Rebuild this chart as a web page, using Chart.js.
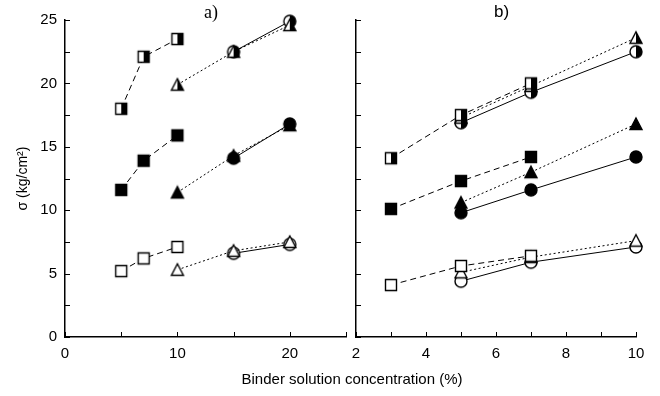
<!DOCTYPE html>
<html>
<head>
<meta charset="utf-8">
<script src="https://cdn.jsdelivr.net/npm/chart.js@4"></script>
<style>
  body { margin: 0; background: #fff; }
  #wrap { position: relative; width: 660px; height: 396px; font-family: "Liberation Sans", Arial, sans-serif; }
  canvas { position: absolute; top: 0; }
  .lab { position: absolute; color: #000; white-space: nowrap; }
</style>
</head>
<body>
<div id="wrap">
  <canvas id="chartA" width="354" height="396" style="left:0"></canvas>
  <canvas id="chartB" width="320" height="396" style="left:340px"></canvas>
  <div class="lab" style="left:204px;top:2px;font:18px 'Liberation Serif',serif">a)</div>
  <div class="lab" style="left:494px;top:2px;font:17px 'Liberation Sans',sans-serif">b)</div>
  <div class="lab" style="left:0;width:704px;text-align:center;top:370px;font-size:15px">Binder solution concentration (%)</div>
</div>
<script>
// panel a) x values
var aSqX = [5, 7, 10];
var aTriX = [10, 15, 20];
var aCirX = [15, 20];
// panel a) sigma values (kg/cm2)
var aSqHalf = [18.0, 22.1, 23.5];
var aTriHalf = [19.9, 22.5, 24.6];
var aCirHalf = [22.5, 24.9];
var aSqFull = [11.6, 13.9, 15.9];
var aTriFull = [11.4, 14.3, 16.7];
var aCirFull = [14.1, 16.8];
var aSqOpen = [5.2, 6.2, 7.1];
var aTriOpen = [5.3, 6.8, 7.5];
var aCirOpen = [6.6, 7.3];

// panel b) x values
var bSqX = [3, 5, 7];
var bTriX = [5, 7, 10];
var bCirX = [5, 7, 10];
// panel b) sigma values
var bSqHalf = [14.1, 17.5, 20.0];
var bTriHalf = [17.3, 19.8, 23.6];
var bCirHalf = [16.9, 19.3, 22.5];
var bSqFull = [10.1, 12.3, 14.2];
var bTriFull = [10.6, 13.0, 16.8];
var bCirFull = [9.8, 11.6, 14.2];
var bSqOpen = [4.1, 5.6, 6.4];
var bTriOpen = [5.1, 6.3, 7.6];
var bCirOpen = [4.4, 5.9, 7.1];

var yTicks = [0, 5, 10, 15, 20, 25];
var aXTicks = [0, 10, 20];
var bXTicks = [2, 4, 6, 8, 10];

// build marker images: shape = sq/tri/cir, fill = open/full/half
function marker(shape, fill) {
  var s = 16, c = document.createElement('canvas');
  c.width = s; c.height = s;
  var g = c.getContext('2d');
  function path() {
    g.beginPath();
    if (shape === 'sq') g.rect(2.5, 2.5, 11, 11);
    else if (shape === 'cir') g.arc(8, 8, 6, 0, Math.PI * 2);
    else { g.moveTo(8, 2); g.lineTo(14, 13.5); g.lineTo(2, 13.5); g.closePath(); }
  }
  path();
  g.fillStyle = fill === 'full' ? '#000' : '#fff';
  g.fill();
  if (fill === 'half') {
    g.save();
    g.beginPath(); g.rect(8, 0, 8, 16); g.clip();
    path(); g.fillStyle = '#000'; g.fill();
    g.restore();
  }
  path();
  g.lineWidth = 1.4;
  g.strokeStyle = '#000';
  g.stroke();
  return c;
}

var dashFor = { sq: [6, 4], tri: [2, 2.5], cir: [] };

function ds(xs, ys, shape, fill) {
  return {
    data: xs.map(function (x, i) { return { x: x, y: ys[i] }; }),
    showLine: true,
    borderColor: '#000',
    borderWidth: 1,
    borderDash: dashFor[shape],
    pointStyle: marker(shape, fill),
    pointRadius: 7,
    clip: false
  };
}

var inTicks = {
  id: 'inTicks',
  beforeDatasetsDraw: function (chart) {
    var ctx = chart.ctx, a = chart.chartArea, xs = chart.scales.x, ys = chart.scales.y;
    ctx.save();
    ctx.strokeStyle = '#000';
    ctx.lineWidth = 1;
    ctx.beginPath();
    xs.ticks.forEach(function (t) {
      var px = Math.round(xs.getPixelForValue(t.value)) + 0.5;
      ctx.moveTo(px, a.bottom); ctx.lineTo(px, a.bottom - 5);
    });
    ys.ticks.forEach(function (t) {
      var py = Math.round(ys.getPixelForValue(t.value)) + 0.5;
      ctx.moveTo(a.left, py); ctx.lineTo(a.left + 5, py);
    });
    ctx.stroke();
    ctx.restore();
  }
};

function makeChart(id, datasets, xMin, xMax, xStep, xLabels, showY, pad) {
  return new Chart(document.getElementById(id), {
    type: 'scatter',
    data: { datasets: datasets },
    plugins: [inTicks],
    options: {
      responsive: false,
      animation: false,
      events: [],
      layout: { padding: pad },
      plugins: { legend: { display: false }, tooltip: { enabled: false } },
      scales: {
        x: {
          type: 'linear', min: xMin, max: xMax,
          grid: { display: false, drawTicks: false },
          border: { display: true, color: '#000', width: 1.5 },
          afterFit: function (s) { s.height = 59; },
          ticks: {
            stepSize: xStep, padding: 8, color: '#000', maxRotation: 0, autoSkip: false,
            font: { family: 'Liberation Sans', size: 15 },
            callback: function (v) { return xLabels.indexOf(v) >= 0 ? String(v) : ''; }
          }
        },
        y: {
          type: 'linear', min: 0, max: 25,
          grid: { display: false, drawTicks: false },
          border: { display: true, color: '#000', width: 1.5 },
          afterFit: function (s) { s.width = showY ? 65 : 16; },
          title: {
            display: showY, text: 'σ (kg/cm²)', color: '#000',
            font: { family: 'Liberation Sans', size: 14 }, padding: { top: 15, bottom: 0 }
          },
          ticks: {
            display: showY, stepSize: 2.5, padding: 8, color: '#000', autoSkip: false,
            font: { family: 'Liberation Sans', size: 15 },
            callback: function (v) { return yTicks.indexOf(v) >= 0 ? String(v) : ''; }
          }
        }
      }
    }
  });
}

makeChart('chartA', [
  ds(aSqX, aSqOpen, 'sq', 'open'),
  ds(aTriX, aTriOpen, 'tri', 'open'),
  ds(aCirX, aCirOpen, 'cir', 'open'),
  ds(aSqX, aSqFull, 'sq', 'full'),
  ds(aTriX, aTriFull, 'tri', 'full'),
  ds(aCirX, aCirFull, 'cir', 'full'),
  ds(aSqX, aSqHalf, 'sq', 'half'),
  ds(aTriX, aTriHalf, 'tri', 'half'),
  ds(aCirX, aCirHalf, 'cir', 'half')
], 0, 25, 5, aXTicks, true, { top: 20, right: 7, left: 0, bottom: 0 });

makeChart('chartB', [
  ds(bSqX, bSqOpen, 'sq', 'open'),
  ds(bTriX, bTriOpen, 'tri', 'open'),
  ds(bCirX, bCirOpen, 'cir', 'open'),
  ds(bSqX, bSqFull, 'sq', 'full'),
  ds(bTriX, bTriFull, 'tri', 'full'),
  ds(bCirX, bCirFull, 'cir', 'full'),
  ds(bSqX, bSqHalf, 'sq', 'half'),
  ds(bTriX, bTriHalf, 'tri', 'half'),
  ds(bCirX, bCirHalf, 'cir', 'half')
], 2, 10, 1, bXTicks, false, { top: 20, right: 24, left: 0, bottom: 0 });
</script>
</body>
</html>
